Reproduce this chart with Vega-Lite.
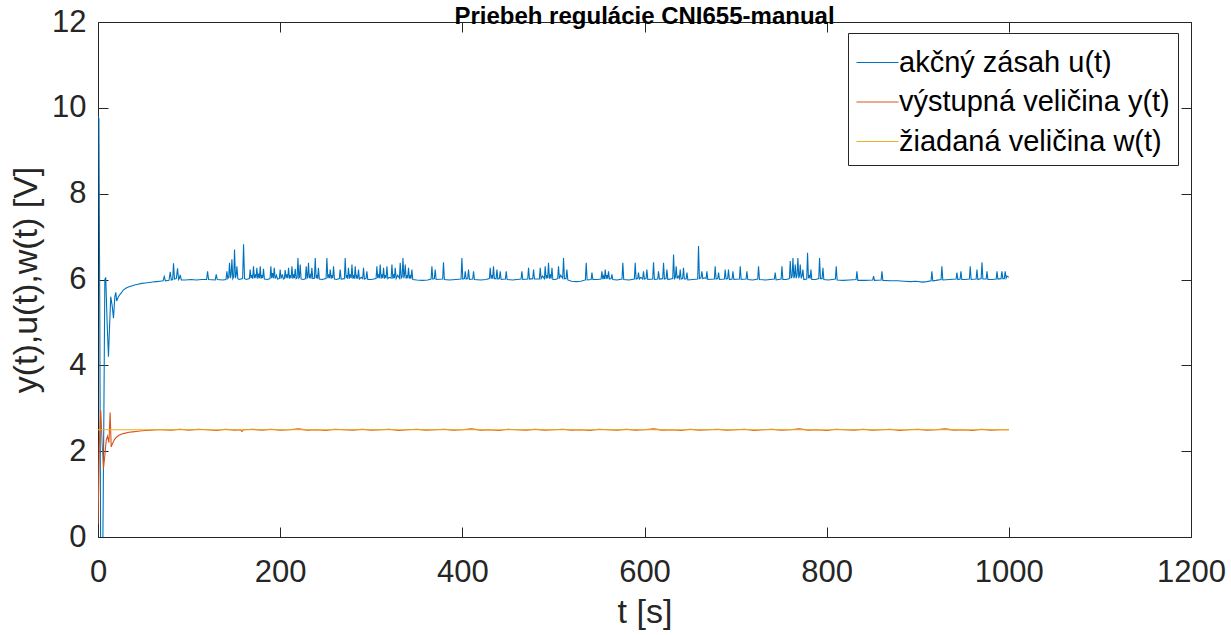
{
  "$schema": "https://vega.github.io/schema/vega-lite/v6.json",
  "width": 1093,
  "height": 515,
  "autosize": {"type": "none"},
  "padding": {"left": 98, "top": 22, "right": 40, "bottom": 98},
  "background": "white",
  "config": {
    "font": "Liberation Sans",
    "view": {"stroke": null}
  },
  "title": {
    "text": "Priebeh regulácie CNI655-manual",
    "fontSize": 24,
    "fontWeight": "bold",
    "color": "black",
    "anchor": "middle",
    "frame": "group",
    "baseline": "alphabetic",
    "offset": 0,
    "dy": 42
  },
  "datasets": {
    "u": [
      {"t": 0, "v": 9.8}, {"t": 1, "v": 9.75}, {"t": 2, "v": 5.0}, {"t": 3, "v": -1}, {"t": 5, "v": -1},
      {"t": 6.5, "v": 3.0}, {"t": 7.5, "v": 6.0}, {"t": 8.5, "v": 6.05}, {"t": 10, "v": 5.0}, {"t": 11.5, "v": 4.2},
      {"t": 12.5, "v": 4.8}, {"t": 14, "v": 5.6}, {"t": 15.5, "v": 5.4}, {"t": 17, "v": 5.1}, {"t": 18.5, "v": 5.6},
      {"t": 19.5, "v": 5.7}, {"t": 20.5, "v": 5.5}, {"t": 22, "v": 5.58}, {"t": 24, "v": 5.65}, {"t": 26, "v": 5.7},
      {"t": 28, "v": 5.76}, {"t": 31, "v": 5.8}, {"t": 34, "v": 5.83}, {"t": 37, "v": 5.85}, {"t": 40, "v": 5.87},
      {"t": 44, "v": 5.89}, {"t": 48, "v": 5.91}, {"t": 52, "v": 5.92}, {"t": 56, "v": 5.93}, {"t": 60, "v": 5.94},
      {"t": 64, "v": 5.95}, {"t": 68, "v": 5.96}, {"t": 71.5, "v": 5.97}, {"t": 72.7, "v": 6.07}, {"t": 74, "v": 5.97},
      {"t": 78, "v": 5.98}, {"t": 79.3, "v": 6.18}, {"t": 80.5, "v": 5.99}, {"t": 82, "v": 6.0}, {"t": 82.9, "v": 6.38},
      {"t": 84, "v": 6.01}, {"t": 86, "v": 6.02}, {"t": 87.3, "v": 6.26}, {"t": 88.5, "v": 6.0}, {"t": 89.4, "v": 6.03},
      {"t": 90.2, "v": 6.11}, {"t": 91.5, "v": 5.99}, {"t": 96, "v": 5.99}, {"t": 102, "v": 6.0}, {"t": 108, "v": 5.99},
      {"t": 114, "v": 6.0}, {"t": 119.2, "v": 6.0}, {"t": 120.3, "v": 6.19}, {"t": 121.4, "v": 6.0}, {"t": 128.7, "v": 5.99},
      {"t": 129.8, "v": 6.12}, {"t": 130.9, "v": 6.0}, {"t": 137, "v": 5.99}, {"t": 140.5, "v": 6.0}, {"t": 141.5, "v": 6.19},
      {"t": 142.5, "v": 6.02}, {"t": 143.5, "v": 6.05}, {"t": 144.4, "v": 6.39}, {"t": 145.4, "v": 6.03}, {"t": 146.2, "v": 6.12},
      {"t": 147, "v": 6.47}, {"t": 148, "v": 6.02}, {"t": 149, "v": 6.06}, {"t": 149.9, "v": 6.7}, {"t": 150.9, "v": 6.03},
      {"t": 151.7, "v": 6.1}, {"t": 152.5, "v": 6.31}, {"t": 153.5, "v": 6.02}, {"t": 155, "v": 6.0}, {"t": 158.8, "v": 6.02},
      {"t": 159.8, "v": 6.82}, {"t": 160.9, "v": 6.02}, {"t": 163, "v": 6.0}, {"t": 166.2, "v": 6.02}, {"t": 167.1, "v": 6.23},
      {"t": 168, "v": 6.03}, {"t": 169, "v": 6.1}, {"t": 169.8, "v": 6.02}, {"t": 170.7, "v": 6.31}, {"t": 171.7, "v": 6.03},
      {"t": 172.6, "v": 6.12}, {"t": 173.5, "v": 6.03}, {"t": 174.4, "v": 6.27}, {"t": 175.4, "v": 6.02}, {"t": 176.5, "v": 6.14},
      {"t": 177.3, "v": 6.03}, {"t": 178.1, "v": 6.31}, {"t": 179, "v": 6.02}, {"t": 180, "v": 6.1}, {"t": 180.8, "v": 6.03},
      {"t": 181.7, "v": 6.25}, {"t": 182.7, "v": 6.01}, {"t": 186, "v": 6.0}, {"t": 188.9, "v": 6.02}, {"t": 189.8, "v": 6.31},
      {"t": 190.7, "v": 6.03}, {"t": 191.6, "v": 6.15}, {"t": 192.6, "v": 6.03}, {"t": 193.5, "v": 6.27}, {"t": 194.5, "v": 6.02},
      {"t": 196, "v": 6.1}, {"t": 197, "v": 6.01}, {"t": 199.1, "v": 6.02}, {"t": 200, "v": 6.23}, {"t": 201, "v": 6.02},
      {"t": 202.5, "v": 6.12}, {"t": 203.5, "v": 6.01}, {"t": 204.6, "v": 6.02}, {"t": 205.5, "v": 6.22}, {"t": 206.5, "v": 6.03},
      {"t": 207.4, "v": 6.12}, {"t": 208.3, "v": 6.03}, {"t": 209.2, "v": 6.27}, {"t": 210.2, "v": 6.02}, {"t": 211, "v": 6.1},
      {"t": 212, "v": 6.03}, {"t": 212.9, "v": 6.31}, {"t": 213.9, "v": 6.02}, {"t": 214.8, "v": 6.12}, {"t": 215.6, "v": 6.03},
      {"t": 216.5, "v": 6.25}, {"t": 217.5, "v": 6.02}, {"t": 218.6, "v": 6.04}, {"t": 219.5, "v": 6.5}, {"t": 220.5, "v": 6.03},
      {"t": 221.2, "v": 6.05}, {"t": 222, "v": 6.35}, {"t": 223, "v": 6.01}, {"t": 226, "v": 6.0}, {"t": 227.7, "v": 6.02},
      {"t": 228.6, "v": 6.31}, {"t": 229.5, "v": 6.03}, {"t": 230.2, "v": 6.05}, {"t": 231.1, "v": 6.39}, {"t": 232, "v": 6.03},
      {"t": 233, "v": 6.1}, {"t": 233.9, "v": 6.02}, {"t": 234.8, "v": 6.27}, {"t": 235.8, "v": 6.02}, {"t": 237.6, "v": 6.03},
      {"t": 238.5, "v": 6.5}, {"t": 239.5, "v": 6.03}, {"t": 240.4, "v": 6.08}, {"t": 241.2, "v": 6.02}, {"t": 242, "v": 6.27},
      {"t": 243, "v": 6.01}, {"t": 246, "v": 6.0}, {"t": 250.4, "v": 6.02}, {"t": 251.3, "v": 6.5}, {"t": 252.3, "v": 6.03},
      {"t": 253.2, "v": 6.12}, {"t": 254.1, "v": 6.03}, {"t": 255, "v": 6.23}, {"t": 256, "v": 6.02}, {"t": 257, "v": 6.1},
      {"t": 257.7, "v": 6.03}, {"t": 258.6, "v": 6.31}, {"t": 259.6, "v": 6.01}, {"t": 262, "v": 6.0}, {"t": 265, "v": 6.02},
      {"t": 265.9, "v": 6.23}, {"t": 266.9, "v": 6.01}, {"t": 270.5, "v": 6.02}, {"t": 271.4, "v": 6.5}, {"t": 272.4, "v": 6.03},
      {"t": 273.2, "v": 6.1}, {"t": 274.1, "v": 6.02}, {"t": 275, "v": 6.27}, {"t": 276, "v": 6.02}, {"t": 277, "v": 6.12},
      {"t": 278, "v": 6.03}, {"t": 278.8, "v": 6.35}, {"t": 279.8, "v": 6.02}, {"t": 280.6, "v": 6.1}, {"t": 281.5, "v": 6.02},
      {"t": 282.4, "v": 6.31}, {"t": 283.4, "v": 6.02}, {"t": 284.2, "v": 6.08}, {"t": 285.1, "v": 6.02}, {"t": 286, "v": 6.23},
      {"t": 287, "v": 6.01}, {"t": 289, "v": 6.05}, {"t": 290.6, "v": 6.02}, {"t": 291.5, "v": 6.27}, {"t": 292.5, "v": 6.01},
      {"t": 294.3, "v": 6.02}, {"t": 295.2, "v": 6.19}, {"t": 296.2, "v": 6.0}, {"t": 300, "v": 6.0}, {"t": 305.3, "v": 6.02},
      {"t": 306.2, "v": 6.31}, {"t": 307.1, "v": 6.03}, {"t": 308, "v": 6.12}, {"t": 308.9, "v": 6.03}, {"t": 309.8, "v": 6.35},
      {"t": 310.8, "v": 6.02}, {"t": 311.7, "v": 6.12}, {"t": 312.6, "v": 6.03}, {"t": 313.5, "v": 6.27}, {"t": 314.5, "v": 6.02},
      {"t": 315.4, "v": 6.1}, {"t": 316.3, "v": 6.03}, {"t": 317.2, "v": 6.31}, {"t": 318.2, "v": 6.02}, {"t": 320, "v": 6.05},
      {"t": 321.8, "v": 6.03}, {"t": 322.7, "v": 6.35}, {"t": 323.7, "v": 6.02}, {"t": 324.5, "v": 6.12}, {"t": 325.4, "v": 6.03},
      {"t": 326.3, "v": 6.27}, {"t": 327.3, "v": 6.02}, {"t": 329, "v": 6.1}, {"t": 330.9, "v": 6.03}, {"t": 331.8, "v": 6.39},
      {"t": 332.8, "v": 6.03}, {"t": 333.9, "v": 6.06}, {"t": 334.8, "v": 6.5}, {"t": 335.8, "v": 6.03}, {"t": 336.5, "v": 6.1},
      {"t": 337.3, "v": 6.35}, {"t": 338.3, "v": 6.02}, {"t": 339.2, "v": 6.1}, {"t": 340, "v": 6.03}, {"t": 340.9, "v": 6.27},
      {"t": 341.9, "v": 6.02}, {"t": 342.8, "v": 6.08}, {"t": 343.7, "v": 6.02}, {"t": 344.6, "v": 6.23}, {"t": 345.6, "v": 6.0},
      {"t": 350, "v": 5.99}, {"t": 356, "v": 5.98}, {"t": 362, "v": 5.99}, {"t": 365.7, "v": 6.01}, {"t": 366.6, "v": 6.31},
      {"t": 367.6, "v": 6.01}, {"t": 369.3, "v": 6.02}, {"t": 370.2, "v": 6.23}, {"t": 371.2, "v": 6.0}, {"t": 378.4, "v": 6.01},
      {"t": 379.3, "v": 6.4}, {"t": 380.3, "v": 6.0}, {"t": 386, "v": 5.99}, {"t": 393, "v": 6.0}, {"t": 398.6, "v": 6.01},
      {"t": 399.5, "v": 6.5}, {"t": 400.5, "v": 6.01}, {"t": 402.3, "v": 6.02}, {"t": 403.2, "v": 6.19}, {"t": 404.2, "v": 6.01},
      {"t": 405.9, "v": 6.02}, {"t": 406.8, "v": 6.23}, {"t": 407.8, "v": 6.0}, {"t": 411.4, "v": 6.01}, {"t": 412.3, "v": 6.19},
      {"t": 413.3, "v": 6.0}, {"t": 420, "v": 5.99}, {"t": 426, "v": 6.0}, {"t": 429.7, "v": 6.02}, {"t": 430.6, "v": 6.27},
      {"t": 431.6, "v": 6.02}, {"t": 432.4, "v": 6.1}, {"t": 433.3, "v": 6.02}, {"t": 434.2, "v": 6.31}, {"t": 435.2, "v": 6.02},
      {"t": 437.1, "v": 6.02}, {"t": 438, "v": 6.23}, {"t": 439, "v": 6.01}, {"t": 440.7, "v": 6.02}, {"t": 441.6, "v": 6.19},
      {"t": 442.6, "v": 6.0}, {"t": 447.3, "v": 6.01}, {"t": 448.2, "v": 6.19}, {"t": 449.2, "v": 6.0}, {"t": 455, "v": 5.99},
      {"t": 460, "v": 6.0}, {"t": 464.5, "v": 6.01}, {"t": 465.4, "v": 6.19}, {"t": 466.4, "v": 6.0}, {"t": 471.8, "v": 6.01},
      {"t": 472.7, "v": 6.27}, {"t": 473.7, "v": 6.01}, {"t": 477.3, "v": 6.02}, {"t": 478.2, "v": 6.23}, {"t": 479.2, "v": 6.01},
      {"t": 484.6, "v": 6.01}, {"t": 485.5, "v": 6.27}, {"t": 486.5, "v": 6.02}, {"t": 488, "v": 6.08}, {"t": 490.1, "v": 6.02},
      {"t": 491, "v": 6.31}, {"t": 492, "v": 6.02}, {"t": 493, "v": 6.1}, {"t": 493.7, "v": 6.03}, {"t": 494.6, "v": 6.39},
      {"t": 495.6, "v": 6.02}, {"t": 496.5, "v": 6.12}, {"t": 497.5, "v": 6.02}, {"t": 498.4, "v": 6.27}, {"t": 499.4, "v": 6.0},
      {"t": 502, "v": 6.0}, {"t": 504.7, "v": 6.02}, {"t": 505.6, "v": 6.31}, {"t": 506.6, "v": 6.02}, {"t": 508, "v": 6.1},
      {"t": 510.2, "v": 6.03}, {"t": 511.1, "v": 6.5}, {"t": 512.1, "v": 6.02}, {"t": 513.9, "v": 6.02}, {"t": 514.8, "v": 6.23},
      {"t": 515.8, "v": 5.99}, {"t": 520, "v": 5.96}, {"t": 525, "v": 5.95}, {"t": 530, "v": 5.96}, {"t": 535.1, "v": 5.99},
      {"t": 536, "v": 6.39}, {"t": 537, "v": 5.99}, {"t": 541.4, "v": 6.0}, {"t": 542.3, "v": 6.16}, {"t": 543.3, "v": 6.0},
      {"t": 548, "v": 6.0}, {"t": 552.3, "v": 6.01}, {"t": 553.2, "v": 6.19}, {"t": 554.2, "v": 6.01}, {"t": 555, "v": 6.08},
      {"t": 556, "v": 6.01}, {"t": 556.9, "v": 6.23}, {"t": 557.9, "v": 6.01}, {"t": 558.8, "v": 6.1}, {"t": 559.6, "v": 6.02},
      {"t": 560.5, "v": 6.19}, {"t": 561.5, "v": 6.01}, {"t": 563.3, "v": 6.02}, {"t": 564.2, "v": 6.12}, {"t": 565.2, "v": 6.0},
      {"t": 570, "v": 5.99}, {"t": 575.3, "v": 6.01}, {"t": 576.2, "v": 6.39}, {"t": 577.2, "v": 6.0}, {"t": 583, "v": 5.99},
      {"t": 588.9, "v": 6.01}, {"t": 589.8, "v": 6.39}, {"t": 590.8, "v": 6.01}, {"t": 592.5, "v": 6.02}, {"t": 593.4, "v": 6.16},
      {"t": 594.4, "v": 6.01}, {"t": 596, "v": 6.05}, {"t": 598, "v": 6.01}, {"t": 598.9, "v": 6.19}, {"t": 599.9, "v": 6.01},
      {"t": 601.7, "v": 6.02}, {"t": 602.6, "v": 6.23}, {"t": 603.6, "v": 6.0}, {"t": 609, "v": 6.01}, {"t": 609.9, "v": 6.4},
      {"t": 610.9, "v": 6.0}, {"t": 614.5, "v": 6.01}, {"t": 615.4, "v": 6.19}, {"t": 616.4, "v": 6.01}, {"t": 620, "v": 6.02},
      {"t": 620.9, "v": 6.39}, {"t": 621.9, "v": 6.01}, {"t": 623.7, "v": 6.02}, {"t": 624.6, "v": 6.23}, {"t": 625.6, "v": 6.0},
      {"t": 631, "v": 6.02}, {"t": 631.9, "v": 6.58}, {"t": 632.9, "v": 6.02}, {"t": 633.9, "v": 6.05}, {"t": 634.8, "v": 6.31},
      {"t": 635.8, "v": 6.02}, {"t": 637, "v": 6.08}, {"t": 638.3, "v": 6.02}, {"t": 639.2, "v": 6.23}, {"t": 640.2, "v": 6.01},
      {"t": 641.9, "v": 6.02}, {"t": 642.8, "v": 6.27}, {"t": 643.8, "v": 6.01}, {"t": 645.7, "v": 6.01}, {"t": 646.6, "v": 6.16},
      {"t": 647.6, "v": 5.99}, {"t": 653, "v": 6.0}, {"t": 658.4, "v": 6.01}, {"t": 659.3, "v": 6.78}, {"t": 660.3, "v": 6.02},
      {"t": 662, "v": 6.04}, {"t": 663, "v": 6.19}, {"t": 664, "v": 6.02}, {"t": 666, "v": 6.04}, {"t": 667.6, "v": 6.02},
      {"t": 668.5, "v": 6.19}, {"t": 669.5, "v": 6.0}, {"t": 676.7, "v": 6.01}, {"t": 677.6, "v": 6.31}, {"t": 678.6, "v": 6.01},
      {"t": 680.4, "v": 6.02}, {"t": 681.3, "v": 6.16}, {"t": 682.3, "v": 6.0}, {"t": 687.7, "v": 6.01}, {"t": 688.6, "v": 6.23},
      {"t": 689.6, "v": 6.01}, {"t": 691.3, "v": 6.02}, {"t": 692.2, "v": 6.23}, {"t": 693.2, "v": 6.0}, {"t": 696.2, "v": 6.01},
      {"t": 697.1, "v": 6.19}, {"t": 698.1, "v": 6.0}, {"t": 704.2, "v": 6.01}, {"t": 705.1, "v": 6.31}, {"t": 706.1, "v": 6.0},
      {"t": 711.5, "v": 6.01}, {"t": 712.4, "v": 6.19}, {"t": 713.4, "v": 6.0}, {"t": 719, "v": 5.99}, {"t": 724.3, "v": 6.01},
      {"t": 725.2, "v": 6.31}, {"t": 726.2, "v": 6.0}, {"t": 733, "v": 5.99}, {"t": 742.6, "v": 6.01}, {"t": 743.5, "v": 6.16},
      {"t": 744.5, "v": 5.99}, {"t": 750, "v": 6.01}, {"t": 750.9, "v": 6.31}, {"t": 751.9, "v": 6.0}, {"t": 756, "v": 6.0},
      {"t": 759.1, "v": 6.02}, {"t": 760, "v": 6.43}, {"t": 761, "v": 6.03}, {"t": 762.1, "v": 6.08}, {"t": 763, "v": 6.5},
      {"t": 764, "v": 6.03}, {"t": 764.7, "v": 6.08}, {"t": 765.5, "v": 6.35}, {"t": 766.5, "v": 6.03}, {"t": 767.5, "v": 6.1},
      {"t": 768.4, "v": 6.5}, {"t": 769.4, "v": 6.03}, {"t": 770.2, "v": 6.1}, {"t": 771, "v": 6.35}, {"t": 772, "v": 6.03},
      {"t": 773, "v": 6.08}, {"t": 773.9, "v": 6.23}, {"t": 774.9, "v": 6.0}, {"t": 778.1, "v": 6.01}, {"t": 779, "v": 6.62},
      {"t": 780, "v": 6.03}, {"t": 781, "v": 6.1}, {"t": 781.8, "v": 6.02}, {"t": 782.7, "v": 6.23}, {"t": 783.7, "v": 6.0},
      {"t": 788, "v": 6.0}, {"t": 791.3, "v": 6.02}, {"t": 792.2, "v": 6.5}, {"t": 793.2, "v": 6.02}, {"t": 795, "v": 6.02},
      {"t": 795.9, "v": 6.27}, {"t": 796.9, "v": 6.0}, {"t": 802, "v": 5.99}, {"t": 809.6, "v": 6.01}, {"t": 810.5, "v": 6.31},
      {"t": 811.5, "v": 5.99}, {"t": 818, "v": 5.98}, {"t": 825, "v": 5.99}, {"t": 832.3, "v": 6.0}, {"t": 833.2, "v": 6.19},
      {"t": 834.2, "v": 5.98}, {"t": 842, "v": 5.98}, {"t": 850.6, "v": 5.99}, {"t": 851.5, "v": 6.08}, {"t": 852.5, "v": 5.98},
      {"t": 859.8, "v": 5.99}, {"t": 860.7, "v": 6.19}, {"t": 861.7, "v": 5.98}, {"t": 870, "v": 5.97}, {"t": 878, "v": 5.97},
      {"t": 885, "v": 5.96}, {"t": 892, "v": 5.95}, {"t": 898, "v": 5.96}, {"t": 905, "v": 5.94}, {"t": 910, "v": 5.95},
      {"t": 914.6, "v": 5.97}, {"t": 915.5, "v": 6.19}, {"t": 916.5, "v": 5.97}, {"t": 920, "v": 5.98}, {"t": 925.6, "v": 6.0},
      {"t": 926.5, "v": 6.31}, {"t": 927.5, "v": 5.99}, {"t": 935, "v": 6.0}, {"t": 942.1, "v": 6.01}, {"t": 943, "v": 6.16},
      {"t": 944, "v": 6.0}, {"t": 946.5, "v": 6.01}, {"t": 947.4, "v": 6.19}, {"t": 948.4, "v": 6.0}, {"t": 952, "v": 6.0},
      {"t": 956.7, "v": 6.01}, {"t": 957.6, "v": 6.31}, {"t": 958.6, "v": 6.0}, {"t": 964.1, "v": 6.01}, {"t": 965, "v": 6.23},
      {"t": 966, "v": 6.0}, {"t": 969.6, "v": 6.02}, {"t": 970.5, "v": 6.4}, {"t": 971.5, "v": 6.01}, {"t": 975.1, "v": 6.01},
      {"t": 976, "v": 6.19}, {"t": 977, "v": 6.0}, {"t": 982, "v": 6.0}, {"t": 986.1, "v": 6.01}, {"t": 987, "v": 6.19},
      {"t": 988, "v": 6.01}, {"t": 991.5, "v": 6.02}, {"t": 992.4, "v": 6.19}, {"t": 993.4, "v": 6.02}, {"t": 995, "v": 6.02},
      {"t": 996, "v": 6.19}, {"t": 997, "v": 6.03}, {"t": 998, "v": 6.08}, {"t": 1000, "v": 6.05}
    ],
    "y": [
      {"t": 0, "v": 0.3}, {"t": 1.5, "v": 2.2}, {"t": 3, "v": 2.95}, {"t": 4.5, "v": 2.2}, {"t": 6, "v": 1.6},
      {"t": 7.5, "v": 1.9}, {"t": 9, "v": 2.25}, {"t": 10.5, "v": 2.35}, {"t": 12, "v": 2.2}, {"t": 13.3, "v": 2.9},
      {"t": 14.5, "v": 2.1}, {"t": 16, "v": 2.18}, {"t": 18, "v": 2.27}, {"t": 20.5, "v": 2.33}, {"t": 23, "v": 2.37},
      {"t": 26, "v": 2.4}, {"t": 30, "v": 2.42}, {"t": 34, "v": 2.44}, {"t": 38, "v": 2.45}, {"t": 42, "v": 2.46},
      {"t": 46, "v": 2.47}, {"t": 52, "v": 2.48}, {"t": 58, "v": 2.49}, {"t": 65, "v": 2.5}, {"t": 70, "v": 2.5},
      {"t": 80, "v": 2.49}, {"t": 90, "v": 2.51}, {"t": 100, "v": 2.49}, {"t": 110, "v": 2.51}, {"t": 120, "v": 2.5},
      {"t": 130, "v": 2.48}, {"t": 140, "v": 2.51}, {"t": 150, "v": 2.49}, {"t": 156, "v": 2.5}, {"t": 158, "v": 2.46},
      {"t": 160, "v": 2.5}, {"t": 170, "v": 2.51}, {"t": 180, "v": 2.49}, {"t": 190, "v": 2.51}, {"t": 200, "v": 2.49},
      {"t": 210, "v": 2.5}, {"t": 220, "v": 2.52}, {"t": 230, "v": 2.49}, {"t": 240, "v": 2.5}, {"t": 250, "v": 2.48},
      {"t": 260, "v": 2.51}, {"t": 270, "v": 2.5}, {"t": 280, "v": 2.49}, {"t": 290, "v": 2.51}, {"t": 300, "v": 2.49},
      {"t": 310, "v": 2.5}, {"t": 320, "v": 2.51}, {"t": 330, "v": 2.48}, {"t": 340, "v": 2.5}, {"t": 350, "v": 2.51},
      {"t": 360, "v": 2.49}, {"t": 370, "v": 2.5}, {"t": 380, "v": 2.51}, {"t": 390, "v": 2.49}, {"t": 400, "v": 2.5},
      {"t": 410, "v": 2.52}, {"t": 420, "v": 2.49}, {"t": 430, "v": 2.5}, {"t": 440, "v": 2.48}, {"t": 450, "v": 2.51},
      {"t": 460, "v": 2.5}, {"t": 470, "v": 2.49}, {"t": 480, "v": 2.51}, {"t": 490, "v": 2.49}, {"t": 500, "v": 2.5},
      {"t": 510, "v": 2.51}, {"t": 520, "v": 2.49}, {"t": 530, "v": 2.5}, {"t": 540, "v": 2.48}, {"t": 550, "v": 2.51},
      {"t": 560, "v": 2.5}, {"t": 570, "v": 2.49}, {"t": 580, "v": 2.51}, {"t": 590, "v": 2.49}, {"t": 600, "v": 2.5},
      {"t": 610, "v": 2.52}, {"t": 620, "v": 2.49}, {"t": 630, "v": 2.5}, {"t": 640, "v": 2.48}, {"t": 650, "v": 2.51},
      {"t": 660, "v": 2.49}, {"t": 670, "v": 2.5}, {"t": 680, "v": 2.51}, {"t": 690, "v": 2.49}, {"t": 700, "v": 2.5},
      {"t": 710, "v": 2.51}, {"t": 720, "v": 2.48}, {"t": 730, "v": 2.5}, {"t": 740, "v": 2.51}, {"t": 750, "v": 2.49},
      {"t": 760, "v": 2.5}, {"t": 770, "v": 2.52}, {"t": 780, "v": 2.49}, {"t": 790, "v": 2.5}, {"t": 800, "v": 2.48},
      {"t": 810, "v": 2.51}, {"t": 820, "v": 2.5}, {"t": 830, "v": 2.49}, {"t": 840, "v": 2.51}, {"t": 850, "v": 2.49},
      {"t": 860, "v": 2.5}, {"t": 870, "v": 2.51}, {"t": 880, "v": 2.48}, {"t": 890, "v": 2.5}, {"t": 900, "v": 2.51},
      {"t": 910, "v": 2.49}, {"t": 920, "v": 2.5}, {"t": 930, "v": 2.52}, {"t": 940, "v": 2.49}, {"t": 950, "v": 2.5},
      {"t": 960, "v": 2.48}, {"t": 970, "v": 2.51}, {"t": 980, "v": 2.49}, {"t": 990, "v": 2.5}, {"t": 1000, "v": 2.5}
    ],
    "w": [
      {"t": 0, "v": 2.5}, {"t": 1000, "v": 2.5}
    ]
  },
  "layer": [
    {
      "layer": [
        {
          "data": {"name": "u"},
          "mark": {"type": "line", "strokeWidth": 1.1, "clip": true},
          "encoding": {
            "x": {
              "field": "t", "type": "quantitative", "title": "t [s]",
              "scale": {"domain": [0, 1200], "nice": false, "zero": false},
              "axis": {
                "orient": "bottom", "values": [0, 200, 400, 600, 800, 1000, 1200], "format": "d",
                "grid": false, "tickSize": -10, "tickColor": "#262626", "domainColor": "#262626",
                "labelFontSize": 31, "labelColor": "#262626", "labelPadding": 30, "labelFlush": false,
                "labelOverlap": false, "titleFontSize": 34, "titleFontWeight": "normal",
                "titleColor": "#262626", "titlePadding": 8
              }
            },
            "y": {
              "field": "v", "type": "quantitative", "title": "y(t),u(t),w(t) [V]",
              "scale": {"domain": [0, 12], "nice": false, "zero": false},
              "axis": {
                "orient": "left", "values": [0, 2, 4, 6, 8, 10, 12],
                "grid": false, "tickSize": -10, "tickColor": "#262626", "domainColor": "#262626",
                "labelFontSize": 31, "labelColor": "#262626", "labelPadding": 22, "labelFlush": false,
                "labelOverlap": false, "titleFontSize": 34, "titleFontWeight": "normal",
                "titleColor": "#262626", "titlePadding": 8
              }
            },
            "color": {
              "datum": "akčný zásah u(t)", "type": "nominal",
              "scale": {
                "domain": ["akčný zásah u(t)", "výstupná veličina y(t)", "žiadaná veličina w(t)"],
                "range": ["#0072BD", "#D95319", "#EDB120"]
              },
              "legend": {
                "orient": "none", "legendX": 750, "legendY": 11, "title": null,
                "symbolType": "stroke", "symbolSize": 1764, "symbolStrokeWidth": 1,
                "labelFontSize": 29, "labelColor": "black", "labelOffset": 0, "labelLimit": 600,
                "padding": 8, "rowPadding": 2.5, "strokeColor": "#262626", "fillColor": "white",
                "cornerRadius": 0
              }
            }
          }
        },
        {
          "data": {"name": "y"},
          "mark": {"type": "line", "strokeWidth": 1.1, "clip": true},
          "encoding": {
            "x": {"field": "t", "type": "quantitative", "title": "t [s]"},
            "y": {"field": "v", "type": "quantitative", "title": "y(t),u(t),w(t) [V]"},
            "color": {"datum": "výstupná veličina y(t)", "type": "nominal"}
          }
        },
        {
          "data": {"name": "w"},
          "mark": {"type": "line", "strokeWidth": 1.1, "clip": true},
          "encoding": {
            "x": {"field": "t", "type": "quantitative", "title": "t [s]"},
            "y": {"field": "v", "type": "quantitative", "title": "y(t),u(t),w(t) [V]"},
            "color": {"datum": "žiadaná veličina w(t)", "type": "nominal"}
          }
        }
      ]
    },
    {
      "data": {"name": "w"},
      "mark": {"type": "line", "strokeOpacity": 0},
      "encoding": {
        "x": {
          "field": "t", "type": "quantitative",
          "axis": {
            "orient": "top", "title": null, "labels": false, "values": [0, 200, 400, 600, 800, 1000, 1200],
            "grid": false, "tickSize": -10, "tickColor": "#262626", "domainColor": "#262626"
          }
        },
        "y": {
          "field": "v", "type": "quantitative",
          "axis": {
            "orient": "right", "title": null, "labels": false, "values": [0, 2, 4, 6, 8, 10, 12],
            "grid": false, "tickSize": -10, "tickColor": "#262626", "domainColor": "#262626"
          }
        }
      }
    }
  ],
  "resolve": {"axis": {"x": "independent", "y": "independent"}}
}
